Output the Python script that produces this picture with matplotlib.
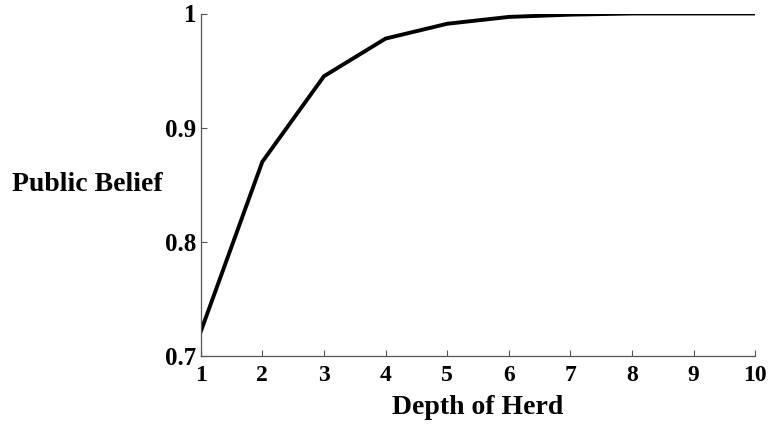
import matplotlib.pyplot as plt

depth = [1, 2, 3, 4, 5, 6, 7, 8, 9, 10]
belief = [0.721, 0.870, 0.945, 0.978, 0.991, 0.997, 0.999, 1.0, 1.0, 1.0]
x_ticks = [1, 2, 3, 4, 5, 6, 7, 8, 9, 10]
y_ticks = [0.7, 0.8, 0.9, 1.0]
y_labels = ['0.7', '0.8', '0.9', '1']

plt.rcParams['font.family'] = 'Liberation Serif'
plt.rcParams['font.weight'] = 'bold'

fig = plt.figure(figsize=(7.69, 4.25), dpi=100)
ax = fig.add_axes([200.7 / 769, 1 - 355.7 / 425, (755.3 - 200.7) / 769, (355.7 - 13.5) / 425])

ax.plot(depth, belief, color='black', linewidth=2.8, solid_joinstyle='miter')

ax.set_xlim(1, 10)
ax.set_ylim(0.7, 1.0)
ax.set_xticks(x_ticks)
ax.set_yticks(y_ticks)
ax.set_yticklabels(y_labels)

# only left and bottom axis lines, grey
ax.spines[['top', 'right']].set_visible(False)
for s in ['left', 'bottom']:
    ax.spines[s].set_color('#555555')
    ax.spines[s].set_linewidth(0.9)

ax.tick_params(direction='in', length=4, width=0.8, color='#555555')
ax.tick_params(axis='x', pad=7, labelsize=17)
ax.tick_params(axis='y', pad=3, labelsize=18)
for lab in ax.get_xticklabels() + ax.get_yticklabels():
    lab.set_fontweight('bold')

ax.set_xlabel('Depth of Herd', fontsize=20, fontweight='bold', labelpad=6)
ax.set_ylabel('Public Belief', fontsize=20, fontweight='bold', rotation=0, ha='center', va='center')
ax.yaxis.set_label_coords(-0.204, 0.5)

fig.savefig('out.png', dpi=100, facecolor='white')
